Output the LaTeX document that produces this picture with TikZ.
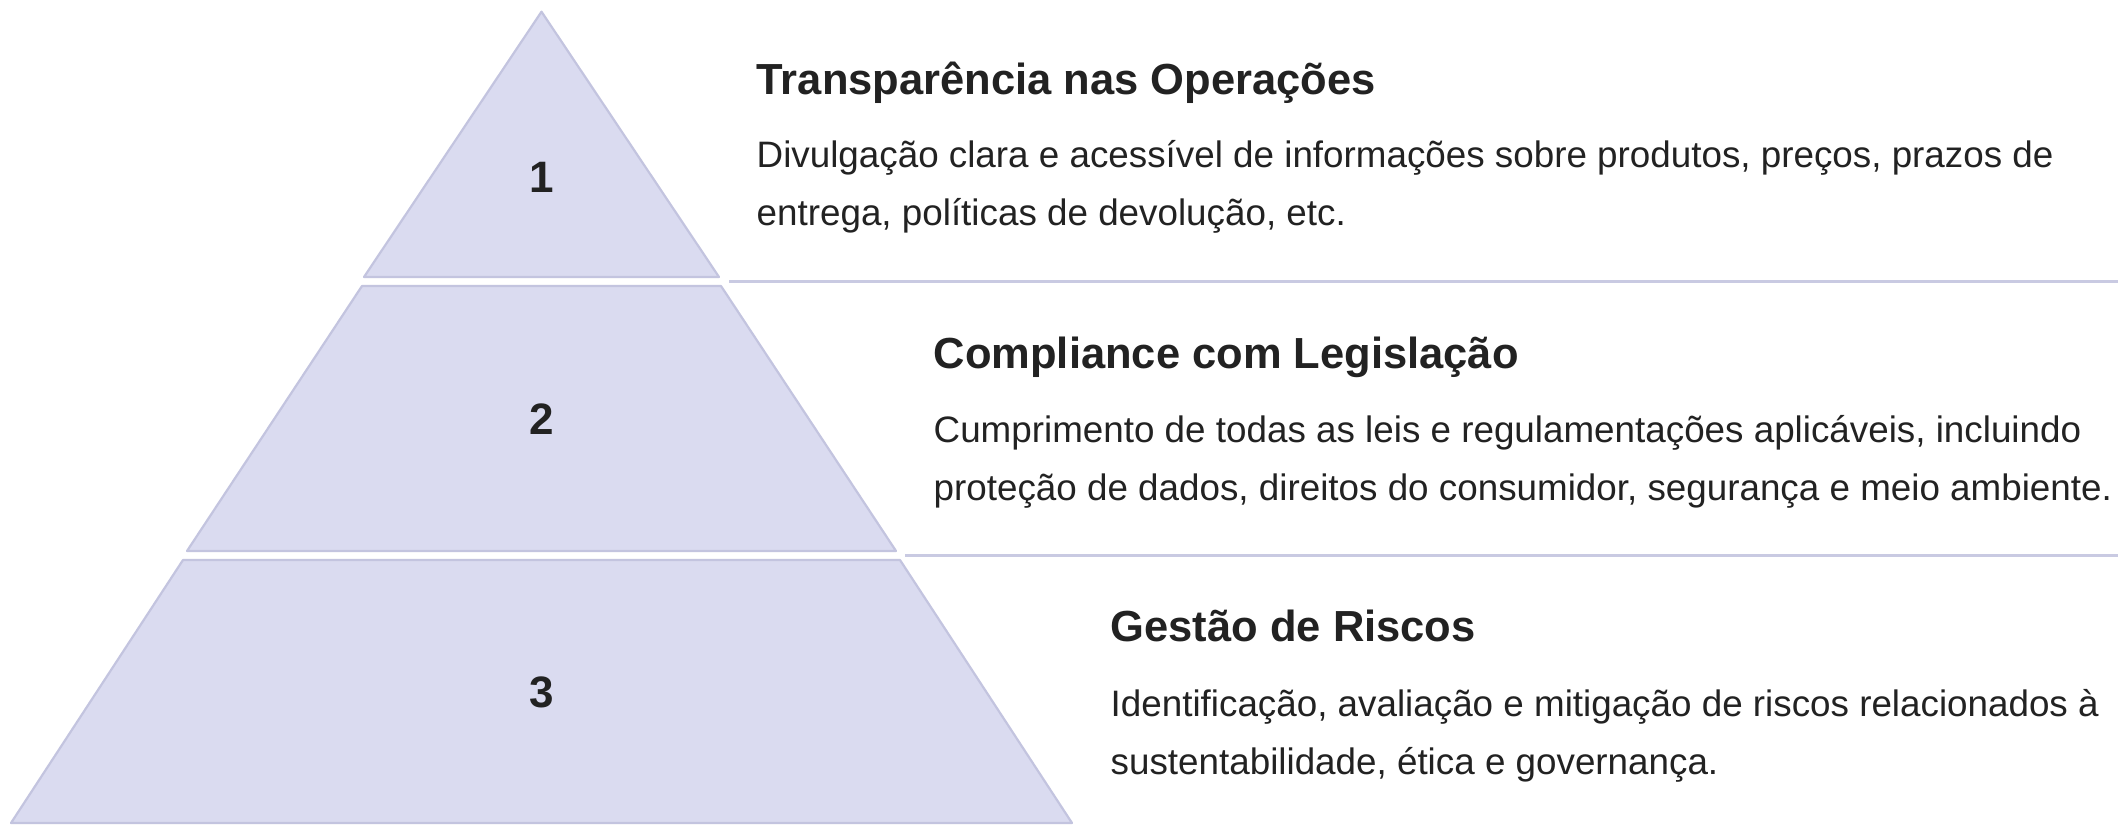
\documentclass[tikz,border=0pt]{standalone}
\usepackage{fontspec}
\setmainfont{Liberation Sans}
\definecolor{tierfill}{HTML}{DADBF0}
\definecolor{tierline}{HTML}{C3C4DF}
\definecolor{sepline}{HTML}{C9CAE2}
\definecolor{ink}{HTML}{222222}
\begin{document}
\begin{tikzpicture}[x=1pt,y=-1pt,
  tier/.style={fill=tierfill,draw=tierline,line width=2.2pt,line join=round},
  sep/.style={draw=sepline,line width=2.5pt},
  num/.style={text=ink,font=\fontsize{44}{52}\selectfont\bfseries,inner sep=0pt},
  ttl/.style={text=ink,font=\fontsize{43.5}{52}\selectfont\bfseries,anchor=base west,inner sep=0pt},
  txt/.style={text=ink,font=\fontsize{36.8}{44}\selectfont,anchor=base west,inner sep=0pt}]
\useasboundingbox[fill=white] (0,0) rectangle (2118,825);
% pyramid tiers
\draw[tier] (541.5,11.7) -- (719,277) -- (364,277) -- cycle;
\draw[tier] (362,286) -- (721,286) -- (896,551) -- (187,551) -- cycle;
\draw[tier] (183,560) -- (900,560) -- (1072,823) -- (11,823) -- cycle;
\node[num] (n1) at (541.5,177) {1};
\node[num] (n2) at (541.5,419) {2};
\node[num] (n3) at (541.5,692) {3};
% separators
\coordinate (s1a) at (729,281.7);
\coordinate (s1b) at (2118,281.7);
\coordinate (s2a) at (905,555.7);
\coordinate (s2b) at (2118,555.7);
\draw[sep] (s1a) -- (s1b);
\draw[sep] (s2a) -- (s2b);
% texts
\node[ttl] (t1) at (756.5,94) {Transparência nas Operações};
\node[txt] (d1a) at (756.5,167.5) {Divulgação clara e acessível de informações sobre produtos, preços, prazos de};
\node[txt] (d1b) at (756.5,225.5) {entrega, políticas de devolução, etc.};
\node[ttl] (t2) at (933.5,368) {Compliance com Legislação};
\node[txt] (d2a) at (933.5,442) {Cumprimento de todas as leis e regulamentações aplicáveis, incluindo};
\node[txt] (d2b) at (933.5,500) {proteção de dados, direitos do consumidor, segurança e meio ambiente.};
\node[ttl] (t3) at (1110.5,641) {Gestão de Riscos};
\node[txt] (d3a) at (1110.5,716) {Identificação, avaliação e mitigação de riscos relacionados à};
\node[txt] (d3b) at (1110.5,774) {sustentabilidade, ética e governança.};
\end{tikzpicture}
\end{document}
